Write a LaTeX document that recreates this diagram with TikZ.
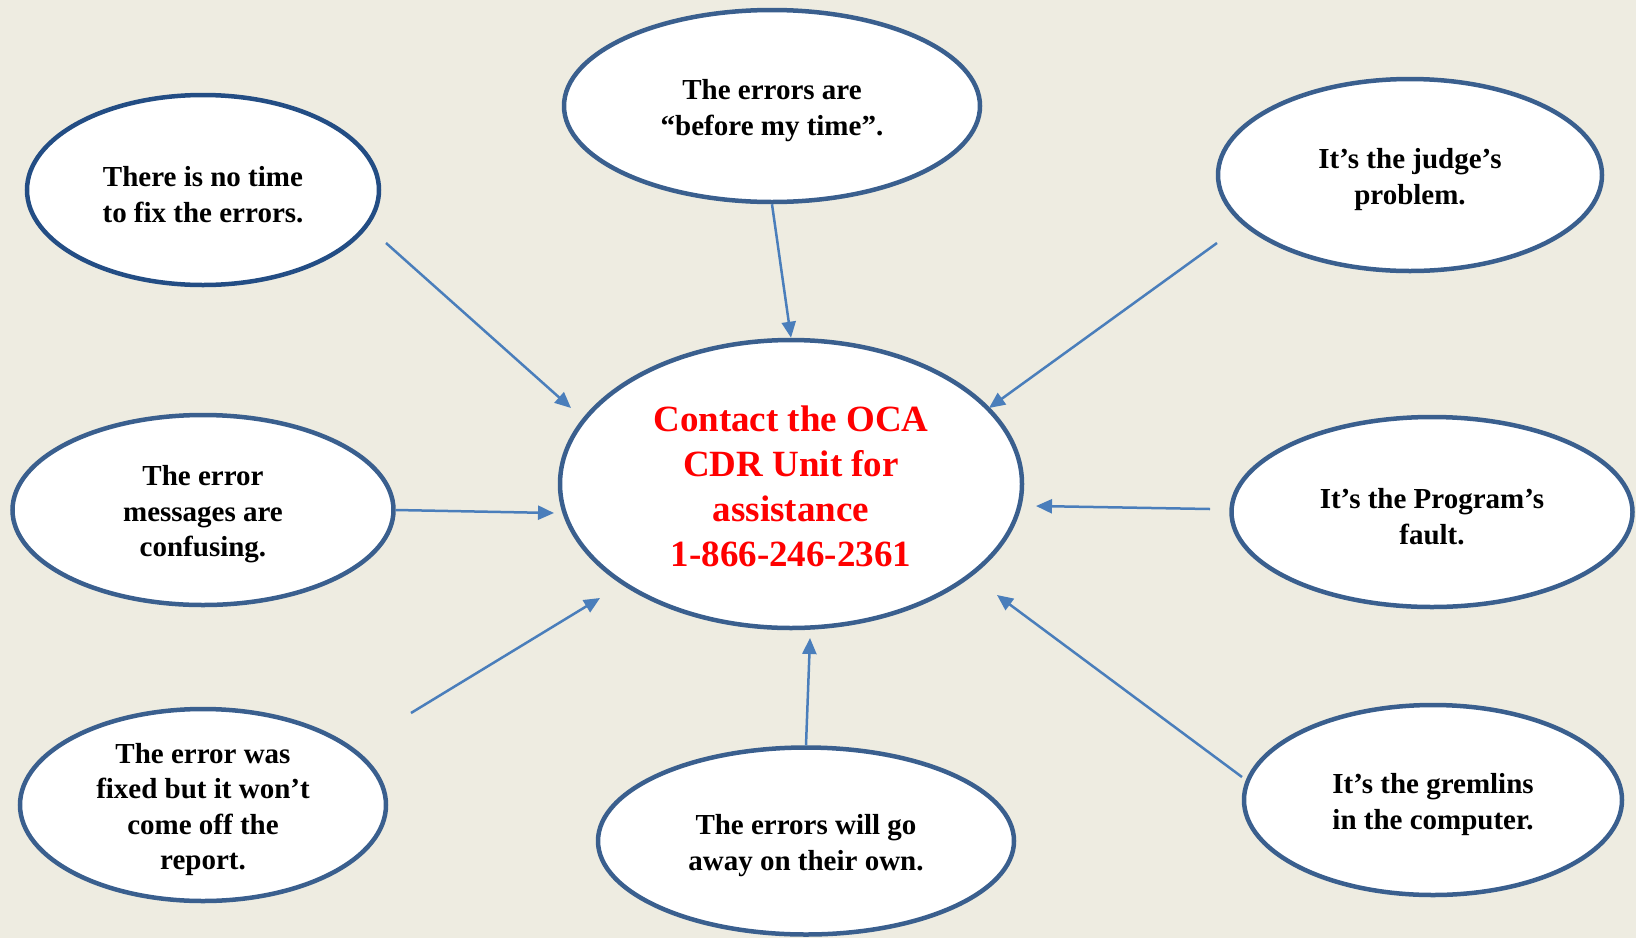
\documentclass[tikz,border=0pt]{standalone}
\usepackage{fontspec}
\setmainfont{Liberation Serif}
\usetikzlibrary{shapes.geometric,arrows.meta}
\definecolor{bg}{HTML}{EEECE1}
\definecolor{rim}{HTML}{3A5F8E}
\definecolor{rimdark}{HTML}{234D84}
\definecolor{arr}{HTML}{4A7EBB}
\definecolor{redtxt}{HTML}{FF0000}
\begin{document}
\begin{tikzpicture}[x=1pt,y=-1pt,
  bub/.style={ellipse,draw=rim,line width=4.5pt,fill=white,inner sep=0pt},
  txt/.style={align=center,font=\fontsize{29}{35.5}\selectfont\bfseries,inner sep=0pt,yshift=-4.5pt},
  ctxt/.style={align=center,font=\fontsize{37}{45}\selectfont\bfseries,text=redtxt,inner sep=0pt,yshift=-2pt},
  link/.style={draw=arr,line width=2.5pt,-{Triangle[length=16pt,width=14pt]}}]
\fill[bg] (0,0) rectangle (1636,938);
\useasboundingbox (0,0) rectangle (1636,938);

% ellipses
\node[bub,draw=rimdark,minimum width=352pt,minimum height=190pt] (e1) at (203,190) {};
\node[bub,minimum width=416pt,minimum height=192pt] (e2) at (772,106) {};
\node[bub,minimum width=384pt,minimum height=192pt] (e3) at (1410,175) {};
\node[bub,minimum width=381pt,minimum height=190pt] (e4) at (203,510) {};
\node[bub,minimum width=401pt,minimum height=190pt] (e5) at (1432,512) {};
\node[bub,minimum width=366pt,minimum height=192pt] (e6) at (203,805) {};
\node[bub,minimum width=416pt,minimum height=187pt] (e7) at (806,841) {};
\node[bub,minimum width=378pt,minimum height=190pt] (e8) at (1433,800) {};
\node[bub,minimum width=462pt,minimum height=288pt] (c) at (791,484) {};

% texts
\node[txt] (t1) at (e1.center) {There is no time\\to fix the errors.};
\node[txt] (t2) at (e2.center) {The errors are\\“before my time”.};
\node[txt] (t3) at (e3.center) {It’s the judge’s\\problem.};
\node[txt] (t4) at (e4.center) {The error\\messages are\\confusing.};
\node[txt] (t5) at (e5.center) {It’s the Program’s\\fault.};
\node[txt] (t6) at (e6.center) {The error was\\fixed but it won’t\\come off the\\report.};
\node[txt] (t7) at (e7.center) {The errors will go\\away on their own.};
\node[txt] (t8) at (e8.center) {It’s the gremlins\\in the computer.};
\node[ctxt] (tc) at (c.center) {Contact the OCA\\CDR Unit for\\assistance\\1-866-246-2361};

% connector ends
\coordinate (a1s) at (386,243); \coordinate (a1e) at (571,408);
\coordinate (a3s) at (1217,243); \coordinate (a3e) at (989,408);
\coordinate (a4e) at (554,513);
\coordinate (a5s) at (1210,509); \coordinate (a5e) at (1036,506);
\coordinate (a6s) at (411,713); \coordinate (a6e) at (600,598);
\coordinate (a7e) at (810,638);
\coordinate (a8s) at (1242,777); \coordinate (a8e) at (997,595);

% connectors
\draw[link] (a1s) -- (a1e);
\draw[link] (e2.south) -- (c.north);
\draw[link] (a3s) -- (a3e);
\draw[link] (e4.east) -- (a4e);
\draw[link] (a5s) -- (a5e);
\draw[link] (a6s) -- (a6e);
\draw[link] (e7.north) -- (a7e);
\draw[link] (a8s) -- (a8e);
\end{tikzpicture}
\end{document}
